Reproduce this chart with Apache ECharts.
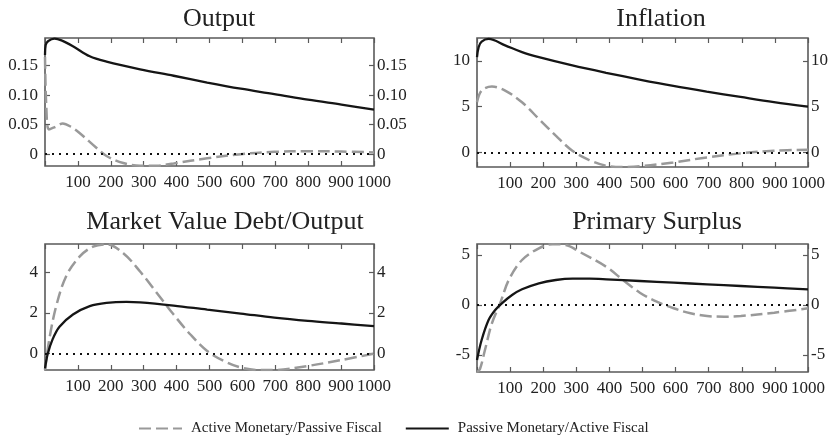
<!DOCTYPE html>
<html>
<head>
<meta charset="utf-8">
<script src="https://cdn.jsdelivr.net/npm/echarts@6/dist/echarts.min.js"></script>
<style>
  html, body { margin: 0; padding: 0; background: #fff; }
  #chart { width: 836px; height: 440px; }
</style>
</head>
<body>
<div id="chart"></div>
<script>
var titles = ['Output', 'Inflation', 'Market Value Debt/Output', 'Primary Surplus']
var legendNames = ['Active Monetary/Passive Fiscal', 'Passive Monetary/Active Fiscal']

// Output
var outputActiveX = [0, 4, 12, 30, 54, 80, 105, 156, 187, 238, 289, 340, 391, 493, 595, 697, 799, 901, 1000]
var outputActiveY = [0.165, 0.08, 0.042, 0.046, 0.052, 0.046, 0.036, 0.011, -0.003, -0.015, -0.0195, -0.0195, -0.0157, -0.007, 0, 0.004, 0.005, 0.0045, 0.003]
var outputPassiveX = [0, 2, 10, 29, 50, 85, 136, 187, 289, 391, 493, 595, 697, 799, 901, 1000]
var outputPassiveY = [0.168, 0.185, 0.192, 0.196, 0.193, 0.183, 0.166, 0.157, 0.144, 0.133, 0.1215, 0.111, 0.102, 0.0924, 0.084, 0.0756]
var outputTicks = [0, 0.05, 0.10, 0.15]

// Inflation
var inflActiveX = [0, 14, 45, 85, 136, 187, 238, 288, 339, 390, 441, 491, 593, 694, 796, 897, 1000]
var inflActiveY = [5.47, 6.75, 7.19, 6.75, 5.47, 3.65, 1.82, 0.18, -0.84, -1.46, -1.6, -1.53, -1.1, -0.55, -0.11, 0.18, 0.29]
var inflPassiveX = [0, 5, 14, 35, 85, 136, 187, 288, 390, 491, 593, 694, 796, 897, 1000]
var inflPassiveY = [10.4, 11.5, 12.1, 12.4, 11.7, 10.95, 10.4, 9.5, 8.7, 7.96, 7.26, 6.64, 6.06, 5.5, 5.0]
var inflTicks = [0, 5, 10]

// Market value debt / output
var debtActiveX = [0, 13, 34, 64, 105, 146, 187, 238, 289, 340, 391, 442, 493, 544, 595, 646, 697, 799, 901, 1000]
var debtActiveY = [-0.8, 0.7, 2.33, 3.79, 4.76, 5.25, 5.36, 4.93, 4.03, 2.98, 1.92, 0.94, 0.13, -0.36, -0.68, -0.8, -0.8, -0.6, -0.31, 0]
var debtPassiveX = [0, 8, 23, 44, 85, 136, 187, 248, 289, 391, 493, 595, 697, 799, 901, 1000]
var debtPassiveY = [-0.72, -0.03, 0.7, 1.32, 1.92, 2.33, 2.49, 2.54, 2.52, 2.36, 2.16, 1.97, 1.77, 1.61, 1.48, 1.35]
var debtTicks = [0, 2, 4]

// Primary surplus
var surpActiveX = [0, 9, 24, 45, 70, 96, 136, 187, 228, 268, 309, 390, 441, 492, 543, 594, 645, 695, 746, 797, 898, 1000]
var surpActiveY = [-6.7, -6.4, -4.5, -1.83, 0.17, 2.5, 4.5, 5.67, 6.08, 6.0, 5.33, 3.83, 2.5, 1.23, 0.33, -0.33, -0.83, -1.1, -1.17, -1.1, -0.77, -0.33]
var surpPassiveX = [0, 14, 35, 55, 75, 106, 136, 187, 238, 289, 340, 391, 492, 594, 695, 797, 898, 1000]
var surpPassiveY = [-5.5, -3.5, -1.5, -0.5, 0.17, 1.0, 1.57, 2.17, 2.5, 2.63, 2.63, 2.57, 2.4, 2.23, 2.07, 1.9, 1.73, 1.57]
var surpTicks = [-5, 0, 5]

var panels = [
  { ax: outputActiveX, ay: outputActiveY, px: outputPassiveX, py: outputPassiveY, ticks: outputTicks, min: -0.02, max: 0.197, dec: 2 },
  { ax: inflActiveX, ay: inflActiveY, px: inflPassiveX, py: inflPassiveY, ticks: inflTicks, min: -1.6, max: 12.5, dec: 0 },
  { ax: debtActiveX, ay: debtActiveY, px: debtPassiveX, py: debtPassiveY, ticks: debtTicks, min: -0.8, max: 5.38, dec: 0 },
  { ax: surpActiveX, ay: surpActiveY, px: surpPassiveX, py: surpPassiveY, ticks: surpTicks, min: -6.7, max: 6.1, dec: 0 }
]

var grids = [
  { left: 45, top: 38, width: 329, height: 128 },
  { left: 477, top: 38, width: 331, height: 129 },
  { left: 45, top: 244, width: 329, height: 126 },
  { left: 477, top: 244, width: 331, height: 128 }
]
var titlePos = [[214, 1], [656, 1], [220, 204], [652, 204]]

var font = 'Liberation Serif'
var textColor = '#222'
var frameColor = '#5a5a5a'

function pairs (xs, ys) {
  var out = []
  for (var i = 0; i < xs.length; i++) out.push([xs[i], ys[i]])
  return out
}

var chart = echarts.init(document.getElementById('chart'))

var option = {
  backgroundColor: '#fff',
  animation: false,
  title: [],
  grid: [],
  xAxis: [],
  yAxis: [],
  series: [],
  legend: {
    data: legendNames,
    top: 416,
    left: 133,
    itemWidth: 43,
    itemHeight: 12,
    itemGap: 23,
    itemStyle: { color: 'transparent', borderWidth: 0 },
    textStyle: { fontFamily: font, fontSize: 15, color: textColor, padding: [0, 0, 0, 4] }
  }
}

panels.forEach(function (p, i) {
  var g = grids[i]
  option.title.push({
    text: titles[i],
    left: titlePos[i][0],
    top: titlePos[i][1],
    textAlign: 'center',
    textStyle: { fontFamily: font, fontSize: 26, fontWeight: 'normal', color: textColor }
  })
  option.grid.push({
    left: g.left, top: g.top, width: g.width, height: g.height,
    show: true, borderColor: frameColor, borderWidth: 1.6, backgroundColor: 'transparent'
  })
  var fmt = function (v) { return v === 0 ? '0' : v.toFixed(p.dec) }
  option.xAxis.push({
    type: 'value', gridIndex: i, min: 0, max: 1000, interval: 100, position: 'bottom',
    axisLine: { show: false, onZero: false },
    axisTick: { inside: true, length: 5, lineStyle: { color: frameColor, width: 1.2 } },
    splitLine: { show: false },
    axisLabel: {
      margin: 8, fontFamily: font, fontSize: 17, color: textColor,
      formatter: function (v) { return v === 0 ? '' : String(v) }
    }
  })
  option.xAxis.push({
    type: 'value', gridIndex: i, min: 0, max: 1000, interval: 100, position: 'top',
    axisLine: { show: false, onZero: false },
    axisTick: { inside: true, length: 5, lineStyle: { color: frameColor, width: 1.2 } },
    splitLine: { show: false },
    axisLabel: { show: false }
  })
  ;['left', 'right'].forEach(function (side) {
    option.yAxis.push({
      type: 'value', gridIndex: i, min: p.min, max: p.max, position: side,
      axisLine: { show: false, onZero: false },
      axisTick: { inside: true, length: 5, lineStyle: { color: frameColor, width: 1.2 }, customValues: p.ticks },
      splitLine: { show: false },
      axisLabel: {
        customValues: p.ticks, margin: side === 'left' ? 7 : 3,
        fontFamily: font, fontSize: 17, color: textColor, formatter: fmt
      }
    })
  })
  option.series.push({
    name: legendNames[0], type: 'line', xAxisIndex: 2 * i, yAxisIndex: 2 * i,
    data: pairs(p.ax, p.ay), smooth: 0.35, symbol: 'none', showSymbol: false,
    lineStyle: { color: '#999999', width: 2.5, type: [12, 5] },
    itemStyle: { color: '#999999' },
    markLine: {
      silent: true, symbol: 'none', label: { show: false },
      lineStyle: { color: '#111', width: 2, type: [2, 5] },
      data: [{ yAxis: 0 }]
    }
  })
  option.series.push({
    name: legendNames[1], type: 'line', xAxisIndex: 2 * i, yAxisIndex: 2 * i,
    data: pairs(p.px, p.py), smooth: 0.35, symbol: 'none', showSymbol: false,
    lineStyle: { color: '#151515', width: 2.3 },
    itemStyle: { color: '#151515' }
  })
})

chart.setOption(option)
</script>
</body>
</html>
